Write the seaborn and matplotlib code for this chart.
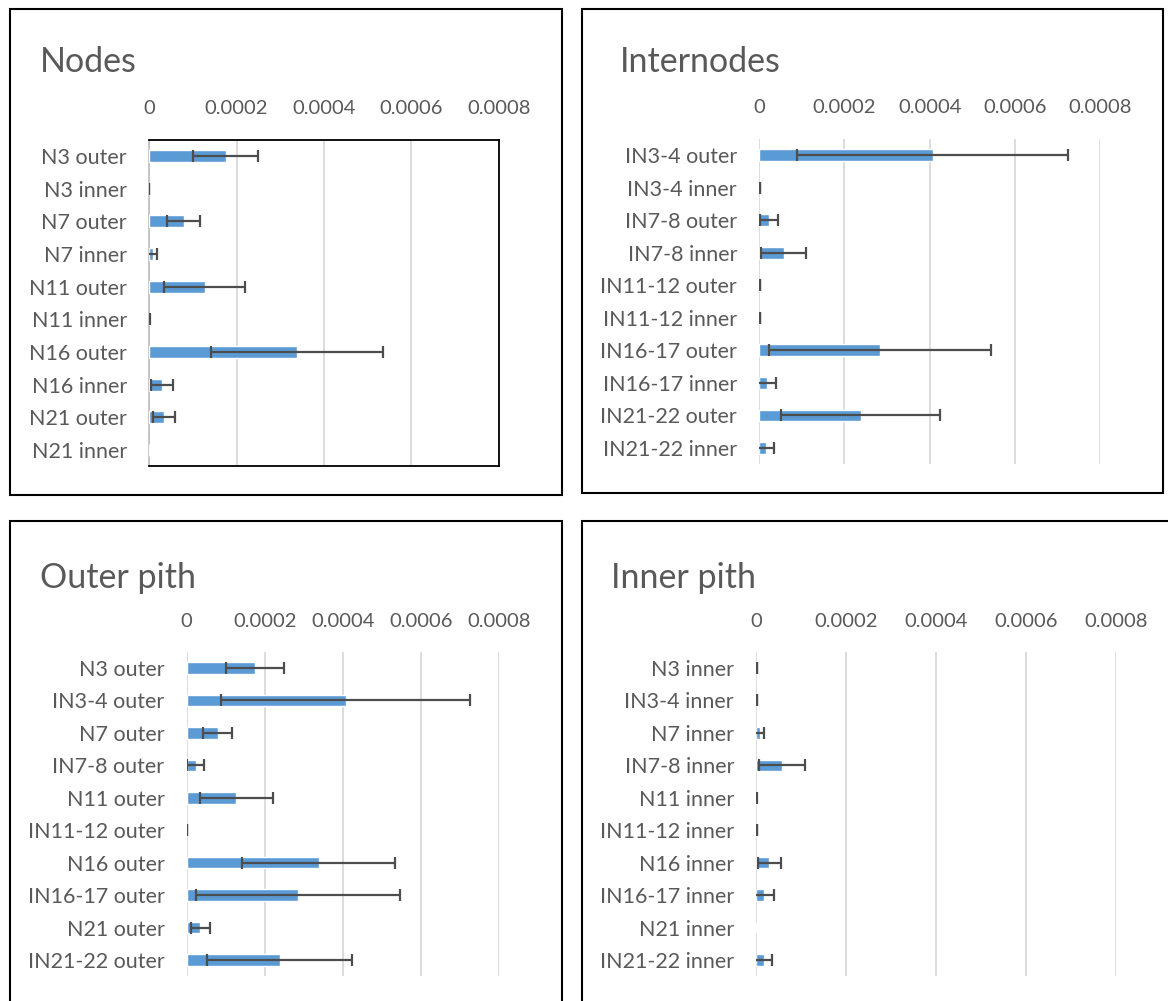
import numpy as np
import pandas as pd
import matplotlib
matplotlib.use("Agg")
import matplotlib.pyplot as plt
from matplotlib.patches import Rectangle
import seaborn as sns

# Tissue positions along the stem
node_labels = ["N3", "N7", "N11", "N16", "N21"]
internode_labels = ["IN3-4", "IN7-8", "IN11-12", "IN16-17", "IN21-22"]

# Means and standard deviations (outer / inner pith)
node_outer_mean = [0.000175, 0.000079, 0.000127, 0.000338, 0.000035]
node_outer_sd = [0.000074, 0.000037, 0.000093, 0.000196, 0.000025]
node_inner_mean = [0.0000005, 0.000008, 0.0000008, 0.000029, 0.0]
node_inner_sd = [0.0, 0.000010, 0.0000004, 0.000025, 0.0]

internode_outer_mean = [0.000407, 0.000023, 0.000001, 0.000284, 0.000238]
internode_outer_sd = [0.000318, 0.000021, 0.0000005, 0.000261, 0.000186]
internode_inner_mean = [0.000001, 0.000057, 0.0000005, 0.000018, 0.000016]
internode_inner_sd = [0.0000005, 0.000052, 0.0, 0.000021, 0.000019]

x_ticks = [0, 0.0002, 0.0004, 0.0006, 0.0008]
x_tick_labels = ["0", "0.0002", "0.0004", "0.0006", "0.0008"]

panel_titles = ["Nodes", "Internodes", "Outer pith", "Inner pith"]


def pair_rows(labels_a, mean_a, sd_a, suffix_a, labels_b, mean_b, sd_b, suffix_b):
    names, means, sds = [], [], []
    for la, ma, sa, lb, mb, sb in zip(labels_a, mean_a, sd_a, labels_b, mean_b, sd_b):
        names += [f"{la} {suffix_a}", f"{lb} {suffix_b}"]
        means += [ma, mb]
        sds += [sa, sb]
    return pd.DataFrame({"sample": names, "value": means, "sd": sds})


panels = [
    pair_rows(node_labels, node_outer_mean, node_outer_sd, "outer",
              node_labels, node_inner_mean, node_inner_sd, "inner"),
    pair_rows(internode_labels, internode_outer_mean, internode_outer_sd, "outer",
              internode_labels, internode_inner_mean, internode_inner_sd, "inner"),
    pair_rows(node_labels, node_outer_mean, node_outer_sd, "outer",
              internode_labels, internode_outer_mean, internode_outer_sd, "outer"),
    pair_rows(node_labels, node_inner_mean, node_inner_sd, "inner",
              internode_labels, internode_inner_mean, internode_inner_sd, "inner"),
]

sns.set_theme(style="white")
plt.rcParams["font.family"] = ["Lato", "DejaVu Sans"]

W, H = 1168, 1001
fig = plt.figure(figsize=(W / 100, H / 100), dpi=100)
fig.patch.set_facecolor("white")

TEXT = "#595959"
BAR = "#5B9BD5"
ERR = "#4D4D4D"
GRID = "#D9D9D9"

# plot-area rectangles in pixels: x0, x1, y_top, y_bottom
areas = [
    (149.0, 499.0, 139.7, 466.3),
    (759.3, 1100.0, 138.7, 464.3),
    (186.7, 499.3, 651.8, 976.2),
    (756.3, 1116.3, 651.8, 976.2),
]
# outer chart frames in pixels: x0, y_top, x1, y_bottom
frames = [
    (10, 9, 562, 495),
    (582, 9, 1163, 493),
    (10, 521, 562, 1010),
    (582, 521, 1180, 1010),
]
title_pos = [(40, 62), (620, 62), (40, 578), (611, 578)]

for i, df in enumerate(panels):
    x0, x1, yt, yb = areas[i]
    ax = fig.add_axes([x0 / W, 1 - yb / H, (x1 - x0) / W, (yb - yt) / H])
    sns.barplot(data=df, x="value", y="sample", orient="h", color=BAR,
                width=0.36, errorbar=None, ax=ax, saturation=1.0, zorder=3)
    pos = np.arange(len(df))
    show = (df["value"] > 0) | (df["sd"] > 0)
    ax.errorbar(df["value"][show], pos[show], xerr=df["sd"][show], fmt="none",
                ecolor=ERR, elinewidth=1.6, capsize=4.5, capthick=1.6, zorder=4)

    ax.set_xlim(0, 0.0008)
    ax.set_ylim(len(df) - 0.5, -0.5)
    ax.set_xticks(x_ticks)
    ax.set_xticklabels(x_tick_labels)
    ax.xaxis.set_ticks_position("top")
    ax.tick_params(axis="x", length=0, pad=16, labelsize=14.5, labelcolor=TEXT)
    ax.tick_params(axis="y", length=0, pad=16, labelsize=15.5, labelcolor=TEXT)
    ax.set_xlabel("")
    ax.set_ylabel("")
    ax.grid(axis="x", color=GRID, linewidth=1.3, zorder=0)
    ax.set_axisbelow(True)

    if i == 0:
        for side in ["top", "right", "bottom"]:
            ax.spines[side].set_visible(True)
            ax.spines[side].set_color("black")
            ax.spines[side].set_linewidth(1.3)
        ax.spines["left"].set_visible(True)
        ax.spines["left"].set_color("#BFBFBF")
        ax.spines["left"].set_linewidth(1.2)
    else:
        for side in ax.spines:
            ax.spines[side].set_visible(False)

    fx0, fyt, fx1, fyb = frames[i]
    fig.patches.append(Rectangle((fx0 / W, 1 - fyb / H), (fx1 - fx0) / W,
                                 (fyb - fyt) / H, transform=fig.transFigure,
                                 fill=False, edgecolor="black", linewidth=1.5))

    tx, ty = title_pos[i]
    fig.text(tx / W, 1 - ty / H, panel_titles[i], fontsize=24.5, color=TEXT,
             ha="left", va="center")

fig.savefig("out.png", dpi=100, facecolor="white")
